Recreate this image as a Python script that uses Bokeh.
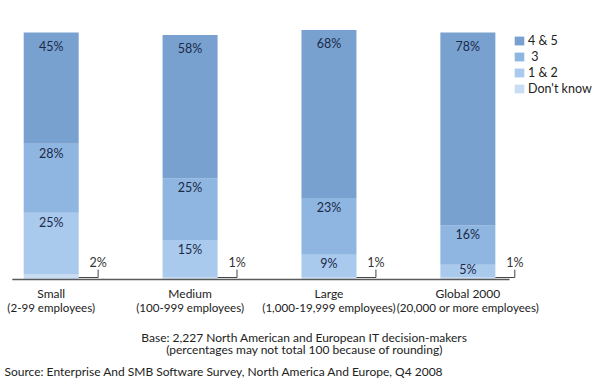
from bokeh.plotting import figure
from bokeh.models import Range1d, ColumnDataSource, Legend, LegendItem, Label
from bokeh.core.properties import value
from bokeh.embed import file_html
from bokeh.resources import INLINE

categories = ["Small", "Medium", "Large", "Global 2000"]
subtitles = ["(2-99 employees)", "(100-999 employees)", "(1,000-19,999 employees)", "(20,000 or more employees)"]
series = ["Don't know", "1 & 2", "\u00a03", "4 & 5"]
dont_know = [2, 1, 1, 1]
one_two = [25, 15, 9, 5]
three = [28, 25, 23, 16]
four_five = [45, 58, 68, 78]
base_note = "Base: 2,227 North American and European IT decision-makers"
round_note = "(percentages may not total 100 because of rounding)"
source_note = "Source: Enterprise And SMB Software Survey, North America And Europe, Q4 2008"

colors = ["#c8dcf2", "#a9c9ed", "#8fb5e1", "#78a1d0"]
FONT = "Lato"
TXT = "#1b2a48"

W, H = 600, 379
x = list(range(len(categories)))
bw = 0.396

src = ColumnDataSource(dict(x=x, dk=dont_know, ot=one_two, th=three, ff=four_five))

p = figure(width=W, height=H, output_backend="svg", toolbar_location=None,
           x_range=Range1d(-0.365, 3.955), y_range=Range1d(-40.49, 112.96),
           x_axis_type=None, y_axis_type=None, min_border=0)
p.outline_line_color = None
p.grid.visible = False
p.background_fill_color = "white"
p.border_fill_color = "white"

rs = p.vbar_stack(["dk", "ot", "th", "ff"], x="x", width=bw, source=src,
                  color=colors, line_color=None)

# baseline
p.segment(x0=[x[0] - 0.28], y0=[0], x1=[x[-1] + 0.3], y1=[0], line_color="#5a5a5a", line_width=1.3)

# value labels
lx, ly, lt = [], [], []
stacks = [dont_know, one_two, three, four_five]
for i in x:
    bottom = 0
    for s, vals in enumerate(stacks):
        v = vals[i]
        top = bottom + v
        if s > 0:
            off = 5.6 if s == 3 else min(3.8, v * 0.4)
            lx.append(i); ly.append(top - off); lt.append(f"{v}%")
        bottom = top
p.text(x=lx, y=ly, text=lt, text_align="center", text_baseline="middle",
       text_font=value(FONT), text_font_size="12.5px", text_color=TXT)

# Don't know callouts
cx = [i + bw / 2 + 0.14 for i in x]
p.segment(x0=[i + bw / 2 for i in x], y0=[0.8] * 4, x1=cx, y1=[0.8] * 4, line_color="#444444", line_width=1)
p.segment(x0=cx, y0=[0.8] * 4, x1=cx, y1=[4.0] * 4, line_color="#444444", line_width=1)
p.text(x=cx, y=[7.0] * 4, text=[f"{v}%" for v in dont_know], text_align="center",
       text_baseline="middle", text_font=value(FONT), text_font_size="12.5px", text_color="#333333")

# category labels
p.text(x=x, y=[-5.5] * 4, text=categories, text_align="center", text_baseline="middle",
       text_font=value(FONT), text_font_size="12px", text_color="#222222")
p.text(x=x, y=[-11.2] * 4, text=subtitles, text_align="center", text_baseline="middle",
       text_font=value(FONT), text_font_size="11.6px", text_color="#222222")

# notes
for txt, yy in [(base_note, 42.3), (round_note, 30.0)]:
    p.add_layout(Label(x=304, y=yy, x_units="screen", y_units="screen", text=txt,
                       text_align="center", text_baseline="middle", text_font=FONT,
                       text_font_size="12px", text_color="#222222"))
p.add_layout(Label(x=4, y=8, x_units="screen", y_units="screen", text=source_note,
                   text_align="left", text_baseline="middle", text_font=FONT,
                   text_font_size="12px", text_color="#222222"))

items = [LegendItem(label=series[k], renderers=[rs[k]]) for k in [3, 2, 1, 0]]
leg = Legend(items=items, location=(513, 283), orientation="vertical",
             glyph_width=12, glyph_height=11, label_height=11, spacing=1,
             label_standoff=3, padding=0, margin=0, border_line_color=None,
             background_fill_alpha=0, label_text_font=FONT, label_text_font_size="12.5px",
             label_text_color="#222222")
p.add_layout(leg)

open("out.html", "w").write(file_html(p, INLINE))
